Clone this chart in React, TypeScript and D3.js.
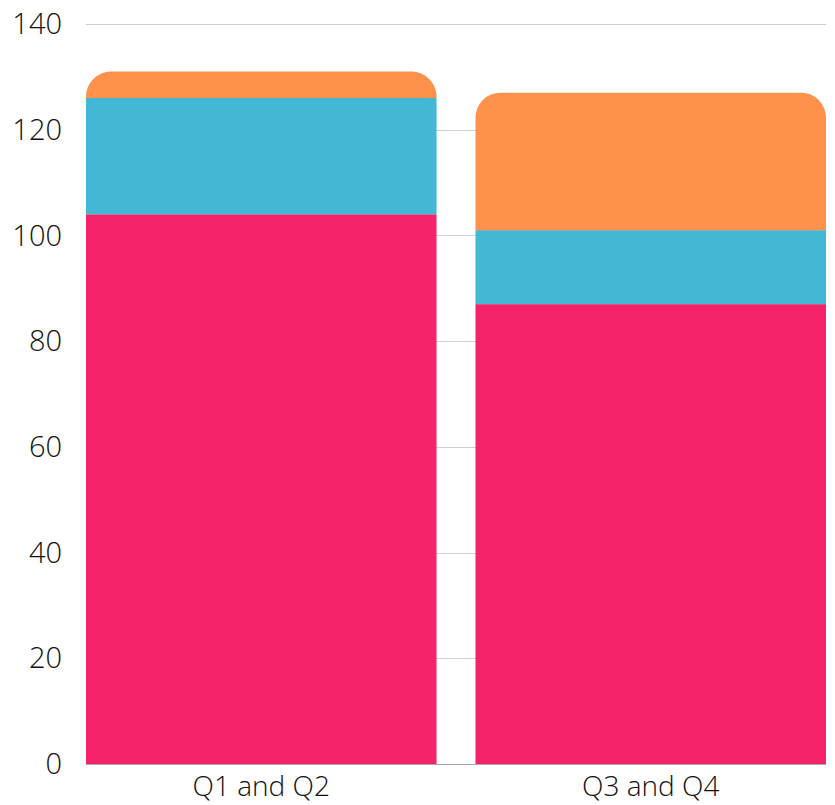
import React from "react";
import * as d3 from "d3";

const categories = ["Q1 and Q2", "Q3 and Q4"];
const seriesNames = ["A", "B", "C"];
const seriesA = [104, 87];
const seriesB = [22, 14];
const seriesC = [5, 26];
const colors = ["#F42369", "#42B8D6", "#FF914D"];
const yTicks = [0, 20, 40, 60, 80, 100, 120, 140];

const W = 835;
const H = 805;
const margin = { left: 86, right: 9, top: 24, bottom: 41 };

function topRounded(x: number, y: number, w: number, h: number, r: number) {
  const rr = Math.min(r, h, w / 2);
  return `M${x},${y + h} L${x},${y + rr} A${rr},${rr} 0 0 1 ${x + rr},${y} L${x + w - rr},${y} A${rr},${rr} 0 0 1 ${x + w},${y + rr} L${x + w},${y + h} Z`;
}

export default function App() {
  const rows = categories.map((c, i) => ({ cat: c, A: seriesA[i], B: seriesB[i], C: seriesC[i] }));
  const stack = d3.stack<any>().keys(seriesNames);
  const stacked = stack(rows);
  const x = d3
    .scaleBand()
    .domain(categories)
    .range([margin.left, W - margin.right])
    .paddingInner(0.1)
    .paddingOuter(0);
  const y = d3.scaleLinear().domain([0, 140]).range([H - margin.bottom, margin.top]);
  const font = "'Open Sans', sans-serif";
  return (
    <div style={{ position: "fixed", left: 0, top: 0, width: W, height: H, background: "#fff" }}>
      <svg width={W} height={H} style={{ display: "block" }}>
        {yTicks.filter((t) => t > 0).map((t) => (
          <line key={t} x1={margin.left} x2={W - margin.right} y1={Math.round(y(t)) + 0.5} y2={Math.round(y(t)) + 0.5} stroke="#cfcfcf" strokeWidth={1} />
        ))}
        {stacked.map((s, si) =>
          s.map((d, i) => {
            const x0 = x(categories[i])!;
            const w = x.bandwidth();
            const y0 = y(d[1]);
            const h = y(d[0]) - y(d[1]);
            const isTop = si === stacked.length - 1;
            return isTop ? (
              <path key={`${si}-${i}`} d={topRounded(x0, y0, w, h, 25)} fill={colors[si]} />
            ) : (
              <rect key={`${si}-${i}`} x={x0} y={y0} width={w} height={h} fill={colors[si]} />
            );
          })
        )}
        <line x1={margin.left} x2={W - margin.right} y1={y(0) + 0.5} y2={y(0) + 0.5} stroke="#a8a8a8" strokeWidth={1} />
        {yTicks.map((t) => (
          <text key={t} x={62} y={y(t)} dy="0.35em" textAnchor="end" fontFamily={font} fontWeight={300} fontSize={29} fill="#111">
            {t}
          </text>
        ))}
        {categories.map((c) => (
          <text key={c} x={x(c)! + x.bandwidth() / 2} y={796} textAnchor="middle" fontFamily={font} fontWeight={300} fontSize={28} fill="#111">
            {c}
          </text>
        ))}
      </svg>
    </div>
  );
}
